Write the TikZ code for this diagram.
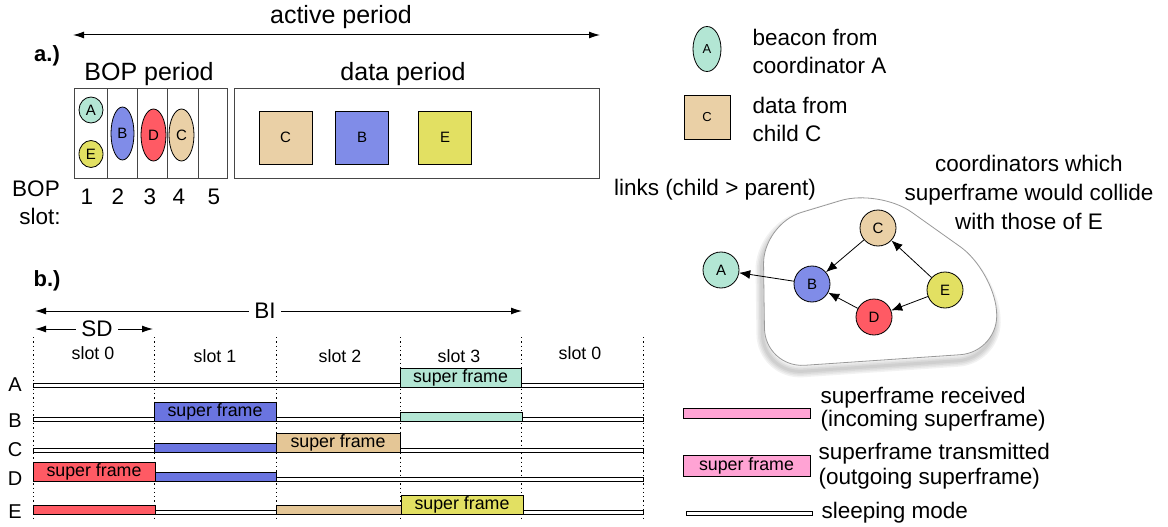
\documentclass[tikz,border=0pt]{standalone}
\usepackage{fontspec}
\setmainfont{Liberation Sans}
\usetikzlibrary{arrows.meta,shapes.geometric}
\definecolor{cA}{RGB}{179,230,212}
\definecolor{cB}{RGB}{128,140,232}
\definecolor{cBt}{RGB}{106,116,224}
\definecolor{cC}{RGB}{234,208,166}
\definecolor{cCt}{RGB}{228,198,150}
\definecolor{cD}{RGB}{255,90,100}
\definecolor{cE}{RGB}{226,224,98}
\definecolor{cP}{RGB}{255,163,212}
\definecolor{frm}{RGB}{70,70,70}
\newcommand{\fs}[1]{\fontsize{#1}{#1}\selectfont}
\tikzset{
  big/.style={font=\fs{25}},
  mid/.style={font=\fs{22.5}},
  lbl/.style={font=\fs{20}},
  dimarrow/.style={line width=1pt,{Latex[length=11pt,width=7pt]}-{Latex[length=11pt,width=7pt]}},
  frame/.style={draw=frm,line width=1pt},
  bopell/.style={ellipse,draw=black,line width=0.8pt,inner sep=0pt,font=\fs{15}},
  dsq/.style={rectangle,draw=black,line width=0.8pt,minimum width=53pt,minimum height=53pt,font=\fs{15}},
  gnode/.style={circle,draw=black,line width=0.8pt,minimum size=36pt,inner sep=0pt,font=\fs{15}},
  garrow/.style={line width=0.8pt,-{Latex[length=11pt,width=9pt]}},
  sleepbar/.style={draw=black,fill=white,line width=0.8pt},
  recvbar/.style={draw=black,line width=0.9pt},
  sfbox/.style={rectangle,draw=black,line width=0.9pt,inner sep=0pt,outer sep=0pt,anchor=south west,minimum height=19pt,font=\fs{17.8}},
  slotline/.style={line width=0.9pt,dash pattern=on 1.3pt off 3pt},
  blobpath/.style={insert path={(763,224) -- (879,189) -- (993,270) -- (1000,352) -- (765,368) -- cycle}},
}
\begin{document}
\begin{tikzpicture}[x=1pt,y=-1pt]
\useasboundingbox (0,0) rectangle (1168,527);
% ---------------- part a
\node[big] (active) at (341,17) {active period};
\coordinate (apL) at (73,35);
\coordinate (apR) at (600,35);
\draw[dimarrow] (apL) -- (apR);
\node[font=\bfseries\fs{22}] (alab) at (47,56) {a.)};
\node[big] (bopp) at (149,74) {BOP period};
\node[big] (datap) at (403,74) {data period};
\draw[frame] (74,89) rectangle (227,178);
\foreach \x in {107,137,167,198} \draw[frame] (\x,89) -- (\x,178);
\draw[frame] (234,89) rectangle (599,178);
\node[bopell,fill=cA,minimum width=24pt,minimum height=26pt] (eA) at (91,110) {A};
\node[bopell,fill=cE,minimum width=24pt,minimum height=27pt] (eE) at (91,154) {E};
\node[bopell,fill=cB,minimum width=23pt,minimum height=53pt] (eB) at (122.5,133.5) {B};
\node[bopell,fill=cD,minimum width=25pt,minimum height=52pt] (eD) at (153.5,135) {D};
\node[bopell,fill=cC,minimum width=25pt,minimum height=52pt] (eC) at (181.5,135) {C};
\node[dsq,fill=cC] (sC) at (285.5,137.5) {C};
\node[dsq,fill=cB] (sB) at (362,137.5) {B};
\node[dsq,fill=cE] (sE) at (445,137.5) {E};
\node[mid] (bop) at (36,189) {BOP};
\node[mid] (slt) at (40,216) {slot:};
\node[mid] (n1) at (87,197) {1};
\node[mid] (n2) at (118,197) {2};
\node[mid] (n3) at (150,197) {3};
\node[mid] (n4) at (179,197) {4};
\node[mid] (n5) at (214,197) {5};
% ---------------- legend top right
\node[bopell,fill=cA,minimum width=28pt,minimum height=45pt,font=\fs{13}] (lgA) at (707,49) {A};
\node[rectangle,draw=black,line width=0.8pt,fill=cC,minimum width=46pt,minimum height=44pt,font=\fs{13}] (lgC) at (707,117) {C};
\node[mid,anchor=west,align=left,font=\fontsize{22.5}{28}\selectfont] (lgAt) at (749,51) {beacon from\\coordinator A};
\node[mid,anchor=west,align=left,font=\fontsize{22.5}{28}\selectfont] (lgCt) at (749,119) {data from\\child C};
% ---------------- graph
\node[mid,align=center,font=\fontsize{22.5}{29}\selectfont] (coll) at (1029,192) {coordinators which\\superframe would collide\\with those of E};
\node[mid] (links) at (715,190) {links (child > parent)};
% soft shadow of the group outline
\foreach \w in {12,9,6,3} {
  \draw[rounded corners=40,draw=black,line width=\w pt,draw opacity=0.05,
        shift={(-2,6)},blobpath];
}
\draw[rounded corners=40,draw=gray!80,line width=0.8pt,fill=white,blobpath];
\node[gnode,fill=cA] (gA) at (721,270) {A};
\node[gnode,fill=cB] (gB) at (812,284) {B};
\node[gnode,fill=cC] (gC) at (878,228) {C};
\node[gnode,fill=cD] (gD) at (874,317) {D};
\node[gnode,fill=cE] (gE) at (945,290) {E};
\draw[garrow] (gB) -- (gA);
\draw[garrow] (gC) -- (gB);
\draw[garrow] (gD) -- (gB);
\draw[garrow] (gE) -- (gC);
\draw[garrow] (gE) -- (gD);
% ---------------- part b
\node[font=\bfseries\fs{22}] (blab) at (47,281) {b.)};
\coordinate (biL) at (35,311);
\coordinate (biR) at (522,311);
\draw[dimarrow] (biL) -- (biR);
\node[mid,fill=white,inner xsep=5pt,inner ysep=1pt] (bi) at (265,311) {BI};
\coordinate (sdL) at (35,329);
\coordinate (sdR) at (153,329);
\draw[dimarrow] (sdL) -- (sdR);
\node[mid,fill=white,inner xsep=5pt,inner ysep=1pt] (sd) at (97,329) {SD};
\foreach \x in {33,154,276,400,521,643} \draw[slotline] (\x,337) -- (\x,521);
\node[font=\fs{17.8}] (s0) at (93,353) {slot 0};
\node[font=\fs{17.8}] (s1) at (215,356) {slot 1};
\node[font=\fs{17.8}] (s2) at (340,356) {slot 2};
\node[font=\fs{17.8}] (s3) at (459,356) {slot 3};
\node[font=\fs{17.8}] (s4) at (580,353) {slot 0};
\node[lbl] (rA) at (15,385) {A};
\node[lbl] (rB) at (15,421) {B};
\node[lbl] (rC) at (15,450) {C};
\node[lbl] (rD) at (15,479) {D};
\node[lbl] (rE) at (15,512) {E};
% row A (base 387)
\draw[sleepbar] (33,387) rectangle (400,383);
\node[sfbox,fill=cA,minimum width=121pt] (aSF) at (400,387) {super frame};
\draw[sleepbar] (521,387) rectangle (643,383);
% row B (base 421)
\draw[sleepbar] (33,421) rectangle (154,417);
\node[sfbox,fill=cBt,minimum width=122pt] (bSF) at (154,421) {super frame};
\draw[sleepbar] (276,421) rectangle (400,417);
\draw[recvbar,fill=cA] (400,421) rectangle (522,412);
\draw[sleepbar] (522,421) rectangle (643,417);
% row C (base 452)
\draw[sleepbar] (33,452) rectangle (154,448);
\draw[recvbar,fill=cBt] (154,452) rectangle (276,443);
\node[sfbox,fill=cCt,minimum width=124pt] (cSF) at (276,452) {super frame};
\draw[sleepbar] (400,452) rectangle (643,448);
% row D (base 481)
\node[sfbox,fill=cD,minimum width=122pt] (dSF) at (33,481) {super frame};
\draw[recvbar,fill=cBt] (155,481) rectangle (276,472);
\draw[sleepbar] (276,481) rectangle (643,477);
% row E (base 514)
\draw[recvbar,fill=cD] (33,514) rectangle (155,505);
\draw[sleepbar] (155,514) rectangle (276,510);
\draw[recvbar,fill=cCt] (276,514) rectangle (401,505);
\node[sfbox,fill=cE,minimum width=122pt] (eSF) at (401,514) {super frame};
\draw[sleepbar] (523,514) rectangle (643,510);
% ---------------- legend bottom right
\draw[recvbar,fill=cP] (683,418) rectangle (810,408);
\node[sfbox,fill=cP,minimum width=127pt,minimum height=21pt] (lgSF) at (683,476) {super frame};
\draw[sleepbar] (686,515) rectangle (812,511);
\node[anchor=west,align=left,font=\fontsize{22.5}{23}\selectfont] (lgR) at (817,409) {superframe received\\(incoming superframe)};
\node[anchor=west,align=left,font=\fontsize{22.5}{25}\selectfont] (lgT) at (815,466) {superframe transmitted\\(outgoing superframe)};
\node[anchor=west,mid] (lgS) at (818,513) {sleeping mode};
\end{tikzpicture}
\end{document}
